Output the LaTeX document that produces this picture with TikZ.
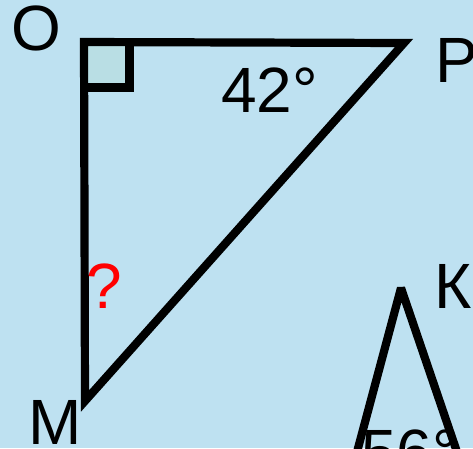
\documentclass[tikz,border=0pt]{standalone}
\usepackage{fontspec}
\setmainfont{Liberation Sans}
\definecolor{bgblue}{RGB}{190,225,241}
\definecolor{sqfill}{RGB}{185,222,228}
\begin{document}
\begin{tikzpicture}[x=1pt,y=-1pt,
  side/.style={line width=8.2pt,draw=black},
  lbl/.style={inner sep=0pt,anchor=base west,font=\fontsize{64}{64}\selectfont}]
\useasboundingbox (0,0) rectangle (473,448);
\clip (0,0) rectangle (473,448);
\fill[bgblue] (0,0) rectangle (473,448);
% first triangle
\coordinate (O) at (84,42);
\coordinate (P) at (404,43);
\coordinate (M) at (85,401);
\coordinate (Q1) at (129.5,42);
\coordinate (Q2) at (129.5,87.5);
\coordinate (Q3) at (84,87.5);
\filldraw[side,fill=sqfill] (O) -- (Q1) -- (Q2) -- (Q3) -- cycle;
\draw[side,line join=miter] (O) -- (P) -- (M) -- cycle;
% second triangle
\coordinate (K) at (401,288);
\coordinate (L) at (357,452);
\coordinate (R) at (457,452);
\draw[side,line join=bevel] (L) -- (K) -- (R);
% labels
\node[lbl] (tO) at (11,50) {O};
\node[lbl] (tP) at (435,82) {Р};
\node[lbl] (tM) at (28,444) {M};
\node[lbl] (tK) at (434,308) {К};
\node[lbl] (t42) at (221,112) {42°};
\node[lbl,text=red] (tq) at (86,308) {?};
\node[lbl] (t56) at (361,474) {56°};
\end{tikzpicture}
\end{document}
